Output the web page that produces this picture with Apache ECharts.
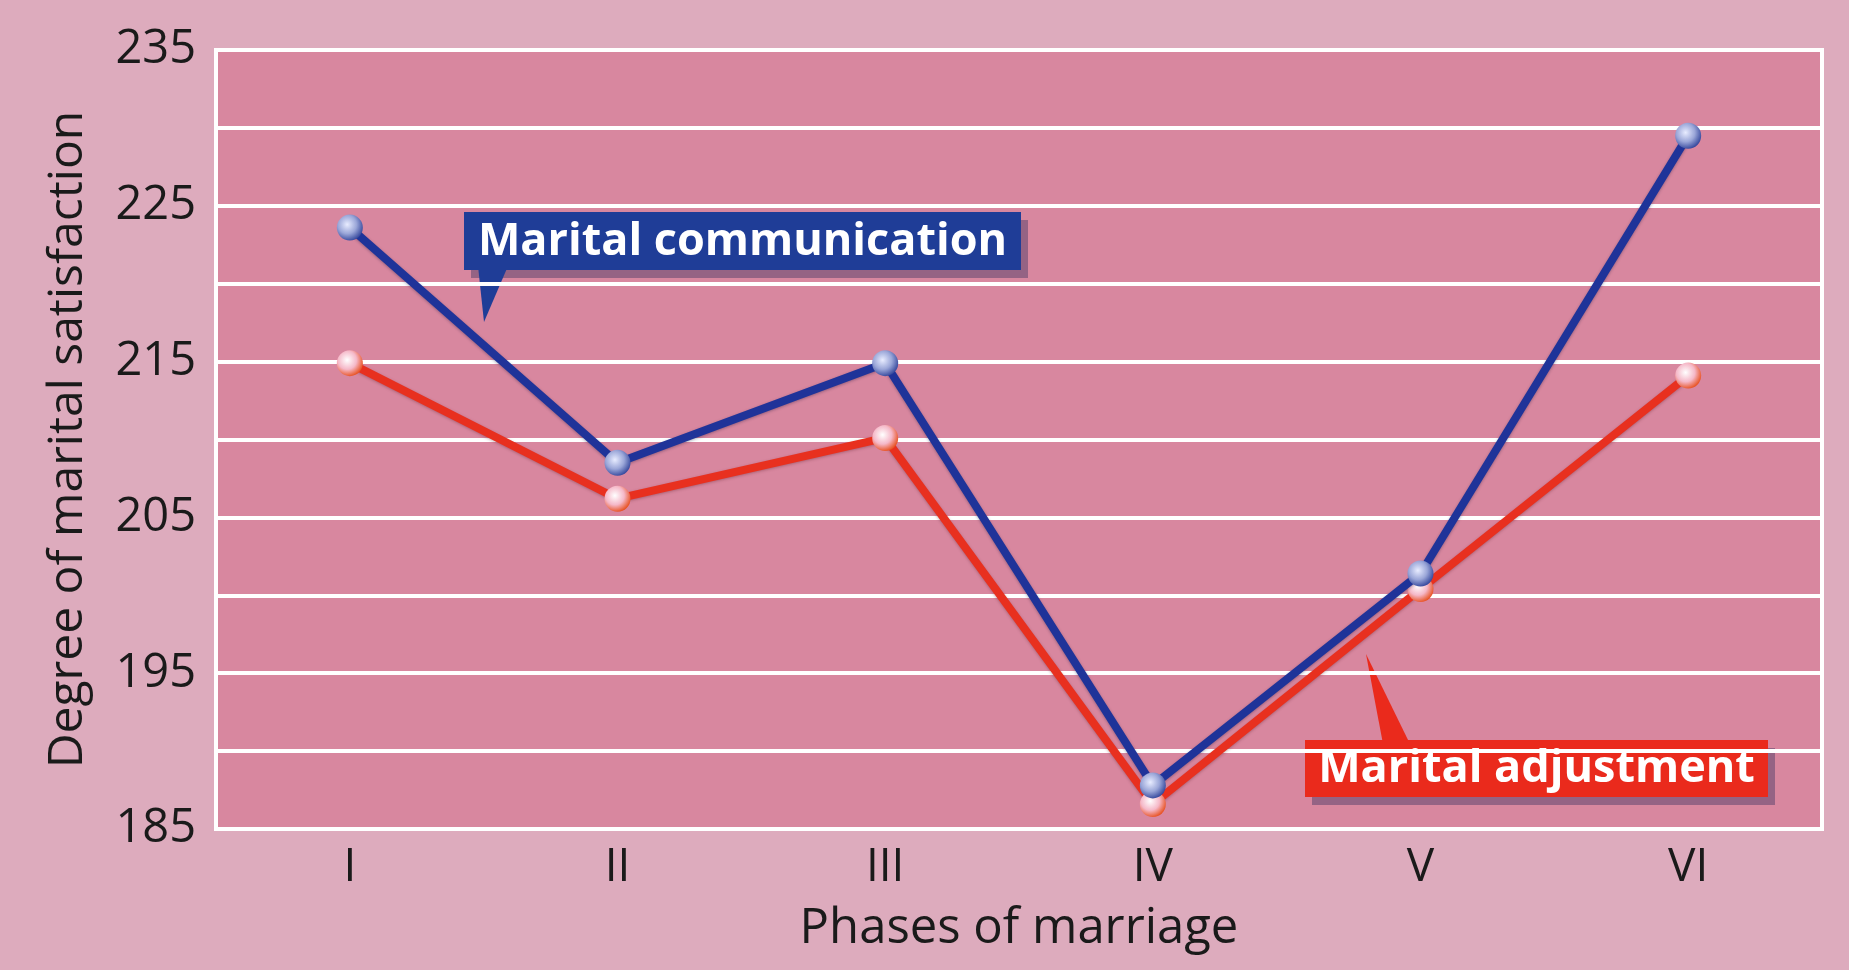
<!DOCTYPE html>
<html>
<head>
<meta charset="utf-8">
<script src="https://cdn.jsdelivr.net/npm/echarts@6/dist/echarts.min.js"></script>
<style>
  html, body { margin: 0; padding: 0; background: #ffffff; }
  #chart { width: 1849px; height: 970px; }
</style>
</head>
<body>
<div id="chart"></div>
<script>
// ---- data ----
const phases = ['I', 'II', 'III', 'IV', 'V', 'VI'];
const maritalCommunication = [223.6, 208.5, 214.9, 187.8, 201.4, 229.5];
const maritalAdjustment = [214.9, 206.2, 210.1, 186.6, 200.4, 214.1];
const yTickLabels = [185, 195, 205, 215, 225, 235];
const yAxisTitle = 'Degree of marital satisfaction';
const xAxisTitle = 'Phases of marriage';
const seriesNames = ['Marital communication', 'Marital adjustment'];

const FONT = '"Open Sans", "Noto Sans", sans-serif';

function sphere(light, mid, edge) {
  return {
    type: 'radial', x: 0.4, y: 0.38, r: 0.65,
    colorStops: [
      { offset: 0, color: light },
      { offset: 0.55, color: mid },
      { offset: 1, color: edge }
    ]
  };
}

const chart = echarts.init(document.getElementById('chart'));

function callout(x, y, w, h, text, color, pointer) {
  return {
    type: 'group',
    children: [
      { type: 'rect', shape: { x: x + 7, y: y + 8, width: w, height: h },
        style: { fill: 'rgba(95,70,110,0.55)' } },
      { type: 'polygon', shape: { points: pointer }, style: { fill: color } },
      { type: 'rect', shape: { x: x, y: y, width: w, height: h },
        style: { fill: color } },
      { type: 'text', x: x + w / 2, y: y + h / 2 + 1,
        style: { text: text, fill: '#ffffff', font: 'bold 45px ' + FONT,
                 align: 'center', verticalAlign: 'middle' } }
    ]
  };
}

chart.setOption({
  backgroundColor: '#ddabbd',
  animation: false,
  grid: {
    left: 216, right: 27, top: 50, bottom: 141,
    show: true, backgroundColor: '#d8879f',
    borderColor: '#ffffff', borderWidth: 4
  },
  xAxis: {
    type: 'category',
    data: phases,
    boundaryGap: true,
    axisLine: { show: true, lineStyle: { color: '#ffffff', width: 4 } },
    axisTick: { show: false },
    axisLabel: { color: '#1a1a1a', fontSize: 46, fontFamily: FONT, margin: 16 },
    name: xAxisTitle,
    nameLocation: 'middle',
    nameGap: 76,
    nameTextStyle: { color: '#1a1a1a', fontSize: 49, fontFamily: FONT }
  },
  yAxis: {
    type: 'value',
    min: 185, max: 235, interval: 5,
    axisLine: { show: true, lineStyle: { color: '#ffffff', width: 4 } },
    axisTick: { show: false },
    splitLine: { show: true, lineStyle: { color: '#ffffff', width: 4 } },
    axisLabel: {
      color: '#1a1a1a', fontSize: 47, fontFamily: FONT, margin: 20,
      formatter: v => (yTickLabels.indexOf(v) >= 0 ? String(v) : '')
    },
    name: yAxisTitle,
    nameLocation: 'middle',
    nameGap: 124,
    nameTextStyle: { color: '#1a1a1a', fontSize: 48, fontFamily: FONT }
  },
  series: [
    {
      name: seriesNames[1],
      type: 'line',
      data: maritalAdjustment,
      symbol: 'circle', symbolSize: 26,
      lineStyle: { color: '#e8301f', width: 8, shadowColor: 'rgba(90,30,40,0.35)', shadowBlur: 3, shadowOffsetY: 1 },
      itemStyle: { color: sphere('#ffffff', '#f5b8c8', '#e8501e'), borderWidth: 0 },
      z: 2
    },
    {
      name: seriesNames[0],
      type: 'line',
      data: maritalCommunication,
      symbol: 'circle', symbolSize: 26,
      lineStyle: { color: '#1f3399', width: 8, shadowColor: 'rgba(20,20,60,0.35)', shadowBlur: 3, shadowOffsetY: 1 },
      itemStyle: { color: sphere('#e8ecff', '#9aa6d8', '#34479c'), borderWidth: 0 },
      z: 3
    }
  ],
  graphic: [
    callout(464, 212, 557, 58, seriesNames[0], '#1f3d97',
            [[478, 266], [508, 266], [484, 322]]),
    callout(1305, 740, 463, 57, seriesNames[1], '#ea2a1c',
            [[1383, 744], [1410, 744], [1366, 654]])
  ]
});
</script>
</body>
</html>
